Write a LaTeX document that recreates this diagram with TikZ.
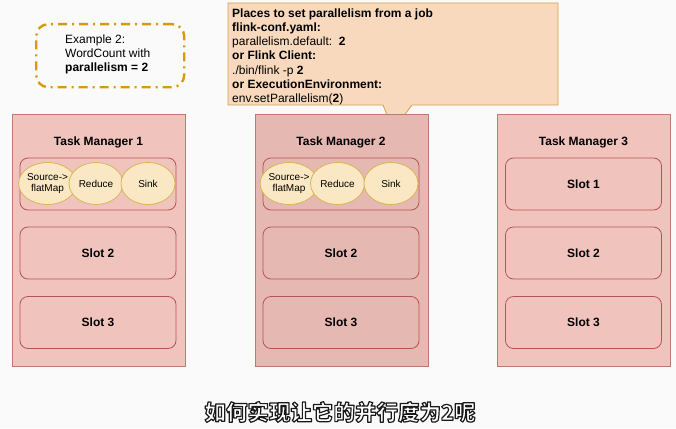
\documentclass[tikz,border=0pt]{standalone}
\usepackage{fontspec}
\setmainfont{Liberation Sans}
\newfontfamily\cjk{Noto Sans CJK SC}
\usetikzlibrary{shapes.geometric}
\definecolor{bgc}{HTML}{FAFAFA}
\definecolor{tmfill}{HTML}{F0C3BD}
\definecolor{tmfillb}{HTML}{E6B8B2}
\definecolor{tmline}{HTML}{BB7A74}
\definecolor{slotline}{HTML}{B85450}
\definecolor{elfill}{HTML}{FAE8C4}
\definecolor{elline}{HTML}{D6B656}
\definecolor{calfill}{HTML}{F8D9BE}
\definecolor{calline}{HTML}{D6A04A}
\definecolor{exline}{HTML}{D89A0B}
\tikzset{
  tmbox/.style={draw=tmline, line width=0.8pt, fill=tmfill, minimum width=173pt, minimum height=252pt, inner sep=0pt},
  tmtitle/.style={font=\bfseries\fontsize{12}{14}\selectfont, inner sep=0pt},
  slotbox/.style={draw=slotline, line width=0.8pt, rounded corners=8pt, minimum width=156pt, minimum height=52pt, font=\bfseries\fontsize{12}{14}\selectfont, inner sep=0pt},
  opel/.style={ellipse, draw=elline, line width=0.8pt, fill=elfill, minimum width=54pt, minimum height=42pt, inner sep=0pt, align=center, font=\fontsize{10}{11.5}\selectfont},
  exbox/.style={draw=exline, line width=2.4pt, rounded corners=12pt, dash pattern=on 9pt off 5pt on 2pt off 5pt, minimum width=148pt, minimum height=63pt, inner sep=0pt},
  subt/.style={font=\cjk\bfseries\fontsize{21.5}{24}\selectfont, inner sep=0pt, text=white}
}
\begin{document}
\begin{tikzpicture}[x=1pt,y=-1pt]
\useasboundingbox[fill=bgc] (0,0) rectangle (676,428);

% example box
\node[exbox, anchor=north west] (ex) at (35,23) {};
\node[anchor=west, align=left, inner sep=0pt, font=\fontsize{12}{14}\selectfont] (extext) at (65,54.5)
  {Example 2:\\WordCount with\\\textbf{parallelism = 2}};

% callout
\draw[draw=calline, fill=calfill, line width=0.8pt]
  (228,3) -- (558,3) -- (558,105) -- (412,105) -- (393,130) -- (383,105) -- (228,105) -- cycle;
\node[anchor=north west, align=left, inner sep=0pt, font=\fontsize{12}{14.2}\selectfont] (caltext) at (232,8.5)
  {\textbf{Places to set parallelism from a job}\\
   \textbf{flink-conf.yaml:}\\
   parallelism.default:\ \ \textbf{2}\\
   \textbf{or Flink Client:}\\
   ./bin/flink -p \textbf{2}\\
   \textbf{or ExecutionEnvironment:}\\
   env.setParallelism(\textbf{2})};

% task managers
\node[tmbox, anchor=north west] (tm1) at (12,114) {};
\node[tmbox, fill=tmfillb, anchor=north west] (tm2) at (254.5,114) {};
\node[tmbox, anchor=north west] (tm3) at (497,114) {};

\node[tmtitle] (tm1t) at (98.5,142) {Task Manager 1};
\node[tmtitle] (tm2t) at (341,142) {Task Manager 2};
\node[tmtitle] (tm3t) at (583.5,142) {Task Manager 3};

% slots TM1
\node[slotbox] (tm1s1) at (98,184) {};
\node[slotbox] (tm1s2) at (98,253) {Slot 2};
\node[slotbox] (tm1s3) at (98,322.5) {Slot 3};
% slots TM2
\node[slotbox] (tm2s1) at (341,184) {};
\node[slotbox] (tm2s2) at (341,253) {Slot 2};
\node[slotbox] (tm2s3) at (341,322.5) {Slot 3};
% slots TM3
\node[slotbox] (tm3s1) at (583.5,184) {Slot 1};
\node[slotbox] (tm3s2) at (583.5,253) {Slot 2};
\node[slotbox] (tm3s3) at (583.5,322.5) {Slot 3};

% operators TM1
\node[opel] (src1) at (47.5,183.5) {Source-\textgreater\\flatMap};
\node[opel] (red1) at (96,183.5) {Reduce};
\node[opel] (snk1) at (148,183.5) {Sink};
% operators TM2
\node[opel] (src2) at (289,183.5) {Source-\textgreater\\flatMap};
\node[opel] (red2) at (337.5,183.5) {Reduce};
\node[opel] (snk2) at (391,183.5) {Sink};

% subtitle: white text with dark outline (fill+stroke render mode)
\node[subt] (sub) at (340,412)
  {\special{pdf:literal direct 2 Tr 1.2 w 1 j 0.1 G}如何实现让它的并行度为2呢\special{pdf:literal direct 0 Tr}};
\end{tikzpicture}
\end{document}
